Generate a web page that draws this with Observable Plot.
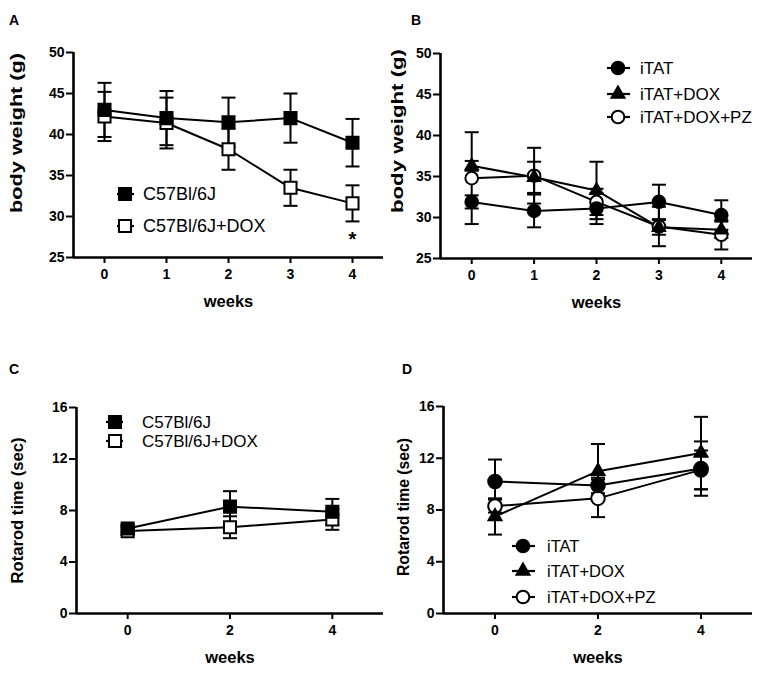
<!DOCTYPE html>
<html><head><meta charset="utf-8">
<script src="https://cdn.jsdelivr.net/npm/d3@7"></script>
<script src="https://cdn.jsdelivr.net/npm/@observablehq/plot@0.6"></script>
<style>
body{margin:0;background:#fff;}
#wrap{position:relative;width:767px;height:675px;overflow:hidden;font-family:"Liberation Sans",Arial,Helvetica,sans-serif;background:#fff;}
.panel{position:absolute;}
#overlay{position:absolute;left:0;top:0;pointer-events:none;}
</style></head><body><div id="wrap"></div>
<script>
// ---------- data ----------
const weeksAB = [0, 1, 2, 3, 4];
const weeksCD = [0, 2, 4];

// Panel A: body weight (g)
const aC57 = [43.0, 42.0, 41.5, 42.0, 39.0];
const aC57Err = [3.3, 3.3, 3.0, 3.0, 2.9];
const aDox = [42.2, 41.4, 38.2, 33.5, 31.6];
const aDoxErr = [3.0, 3.1, 2.5, 2.2, 2.2];
const aStar = [{week: 4, value: 27.6, label: "*"}];

// Panel B: body weight (g)
const bITAT = [31.9, 30.8, 31.1, 31.9, 30.3];
const bITATErr = [0.8, 2.0, 1.9, 2.1, 1.8];
const bDox = [36.3, 34.9, 33.3, 28.8, 28.5];
const bDoxErr = [0.6, 1.9, 3.5, 0.9, 1.0];
const bDoxPz = [34.8, 35.1, 31.9, 28.9, 27.9];
const bDoxPzErr = [5.6, 3.4, 1.6, 2.4, 1.8];

// Panel C: rotarod time (sec)
const cC57 = [6.6, 8.3, 7.9];
const cC57Err = [0.3, 1.2, 1.0];
const cDox = [6.4, 6.7, 7.3];
const cDoxErr = [0.3, 0.85, 0.8];

// Panel D: rotarod time (sec)
const dITAT = [10.2, 9.9, 11.2];
const dITATErr = [1.7, 0.6, 2.1];
const dDox = [7.5, 11.0, 12.4];
const dDoxErr = [1.4, 2.1, 2.8];
const dDoxPz = [8.3, 8.9, 11.1];
const dDoxPzErr = [0.5, 1.45, 1.5];

const tickAB_y = [25, 30, 35, 40, 45, 50];
const tickCD_y = [0, 4, 8, 12, 16];
const namesA = ["C57Bl/6J", "C57Bl/6J+DOX"];
const namesB = ["iTAT", "iTAT+DOX", "iTAT+DOX+PZ"];

// ---------- helpers ----------
const FONT = '"Liberation Sans", Arial, Helvetica, sans-serif';
const cap = {draw(ctx, size) { const w = Math.sqrt(size / Math.PI); ctx.moveTo(-w, 0); ctx.lineTo(w, 0); }};

function rowsOf(weeks, series) {
  return series.flatMap(s => weeks.map((w, i) => ({
    series: s.name, week: w, value: s.values[i],
    lo: s.values[i] - s.errs[i], hi: s.values[i] + s.errs[i]
  })));
}

function panel(cfg) {
  const rows = rowsOf(cfg.weeks, cfg.series);
  const marks = [
    Plot.line(rows, {x: "week", y: "value", z: "series", stroke: "black", strokeWidth: 2}),
    Plot.ruleX(rows, {x: "week", y1: "lo", y2: "hi", stroke: "black", strokeWidth: 2}),
    Plot.dot(rows, {x: "week", y: "lo", symbol: cap, r: 7, fill: "none", stroke: "black", strokeWidth: 2}),
    Plot.dot(rows, {x: "week", y: "hi", symbol: cap, r: 7, fill: "none", stroke: "black", strokeWidth: 2}),
    ...cfg.series.slice().reverse().map(s =>
      Plot.dot(rows.filter(d => d.series === s.name), {x: "week", y: "value", symbol: s.symbol, r: s.r, fill: s.fill, stroke: "black", strokeWidth: 2})),
    Plot.ruleX([cfg.xDomain[0]], {stroke: "black", strokeWidth: 2.6}),
    Plot.ruleY([cfg.yDomain[0]], {stroke: "black", strokeWidth: 2.6}),
    Plot.axisY({ticks: cfg.yTicks, tickSize: 7, tickPadding: 2, strokeWidth: 2, fontSize: 14, fontWeight: "bold", label: null, tickFormat: d => String(d)}),
    Plot.axisX({ticks: cfg.weeks, tickSize: 6, tickPadding: 6, strokeWidth: 2, fontSize: 14, fontWeight: "bold", label: null, tickFormat: d => String(d)}),
    Plot.text([cfg.ylabel], {frameAnchor: "left", rotate: -90, textAnchor: "middle", lineAnchor: "middle", dx: cfg.labelDx, dy: cfg.labelDy, fontSize: 17, fontWeight: "bold"}),
    Plot.text(["weeks"], {frameAnchor: "bottom", lineAnchor: "middle", dy: 44, fontSize: 16.5, fontWeight: "bold"})
  ];
  if (cfg.star) marks.push(Plot.text(cfg.star, {x: "week", y: "value", text: "label", fontSize: 20, fontWeight: "bold", lineAnchor: "middle", dy: 3}));
  const svg = Plot.plot({
    width: cfg.width, height: cfg.height,
    marginTop: cfg.m[0], marginRight: cfg.m[1], marginBottom: cfg.m[2], marginLeft: cfg.m[3],
    x: {domain: cfg.xDomain, axis: null},
    y: {domain: cfg.yDomain, axis: null},
    style: {fontFamily: FONT, color: "black", background: "transparent", overflow: "visible"},
    marks
  });
  d3.select(svg).selectAll("text").filter(function() { return this.textContent === cfg.ylabel; })
    .attr("textLength", cfg.labelLen).attr("lengthAdjust", "spacingAndGlyphs");
  const div = document.createElement("div");
  div.className = "panel";
  div.style.left = cfg.left + "px";
  div.style.top = cfg.top + "px";
  div.appendChild(svg);
  document.getElementById("wrap").appendChild(div);
}

const sq = d3.symbolSquare, ci = d3.symbolCircle, tr = d3.symbolTriangle;

panel({
  left: 0, top: 0, width: 384, height: 330, m: [52, 1, 73, 73],
  weeks: weeksAB, xDomain: [-0.5, 4.5], yDomain: [25, 50], yTicks: tickAB_y,
  ylabel: "body weight (g)", labelDx: -57, labelDy: -22, labelLen: 160, star: aStar,
  series: [
    {name: namesA[0], values: aC57, errs: aC57Err, symbol: "square", r: 6.8, fill: "black"},
    {name: namesA[1], values: aDox, errs: aDoxErr, symbol: "square", r: 6.8, fill: "white"}
  ]
});
panel({
  left: 380, top: 0, width: 387, height: 330, m: [53, 15, 72, 60],
  weeks: weeksAB, xDomain: [-0.5, 4.5], yDomain: [25, 50], yTicks: tickAB_y,
  ylabel: "body weight (g)", labelDx: -42.5, labelDy: -25, labelLen: 164,
  series: [
    {name: namesB[0], values: bITAT, errs: bITATErr, symbol: "circle", r: 6.3, fill: "black"},
    {name: namesB[1], values: bDox, errs: bDoxErr, symbol: "triangle", r: 4.6, fill: "black"},
    {name: namesB[2], values: bDoxPz, errs: bDoxPzErr, symbol: "circle", r: 6.3, fill: "white"}
  ]
});
panel({
  left: 0, top: 330, width: 384, height: 345, m: [77, 1, 62, 76],
  weeks: weeksCD, xDomain: [-1, 5], yDomain: [0, 16], yTicks: tickCD_y,
  ylabel: "Rotarod time (sec)", labelDx: -58.5, labelDy: 0, labelLen: 146,
  series: [
    {name: namesA[0], values: cC57, errs: cC57Err, symbol: "square", r: 6.8, fill: "black"},
    {name: namesA[1], values: cDox, errs: cDoxErr, symbol: "square", r: 6.8, fill: "white"}
  ]
});
panel({
  left: 380, top: 330, width: 387, height: 345, m: [76, 15, 62, 63],
  weeks: weeksCD, xDomain: [-1, 5], yDomain: [0, 16], yTicks: tickCD_y,
  ylabel: "Rotarod time (sec)", labelDx: -39.5, labelDy: -3, labelLen: 138,
  series: [
    {name: namesB[0], values: dITAT, errs: dITATErr, symbol: "circle", r: 6.8, fill: "black"},
    {name: namesB[1], values: dDox, errs: dDoxErr, symbol: "triangle", r: 4.8, fill: "black"},
    {name: namesB[2], values: dDoxPz, errs: dDoxPzErr, symbol: "circle", r: 6.8, fill: "white"}
  ]
});

// ---------- legends & panel letters (overlay) ----------
const overlay = d3.select("#wrap").append("svg").attr("id", "overlay")
  .attr("width", 767).attr("height", 675).style("font-family", FONT);

const symA = [{type: sq, r: 6.8, fill: "black"}, {type: sq, r: 6.8, fill: "white"}];
const symB = [{type: ci, r: 6.3, fill: "black"}, {type: tr, r: 4.8, fill: "black"}, {type: ci, r: 6.3, fill: "white"}];
const legends = [
  {names: namesA, syms: symA, x1: 117, x2: 134, mx: 125, tx: 143, ys: [194, 226], fs: 18},
  {names: namesB, syms: symB, x1: 607, x2: 630, mx: 618, tx: 640, ys: [68, 94, 117], fs: 17},
  {names: namesA, syms: symA, x1: 106, x2: 123, mx: 115, tx: 142, ys: [422, 441], fs: 17},
  {names: namesB, syms: symB, x1: 512, x2: 535, mx: 523, tx: 547, ys: [546, 571, 597], fs: 16.5}
];
for (const L of legends) {
  L.names.forEach((name, i) => {
    const y = L.ys[i], s = L.syms[i];
    overlay.append("line").attr("x1", L.x1).attr("x2", L.x2).attr("y1", y).attr("y2", y)
      .attr("stroke", "black").attr("stroke-width", 2.2);
    overlay.append("path").attr("transform", `translate(${L.mx},${y})`)
      .attr("d", d3.symbol(s.type, Math.PI * s.r * s.r)())
      .attr("fill", s.fill).attr("stroke", "black").attr("stroke-width", 2);
    overlay.append("text").attr("x", L.tx).attr("y", y).attr("dy", "0.36em")
      .attr("font-size", L.fs).attr("fill", "black").text(name);
  });
}
const letters = [["A", 9, 25], ["B", 411, 25], ["C", 9, 374], ["D", 402, 374]];
for (const [t, x, y] of letters) {
  overlay.append("text").attr("x", x).attr("y", y).attr("font-size", 14)
    .attr("font-weight", "bold").attr("fill", "black").text(t);
}
</script></body></html>
